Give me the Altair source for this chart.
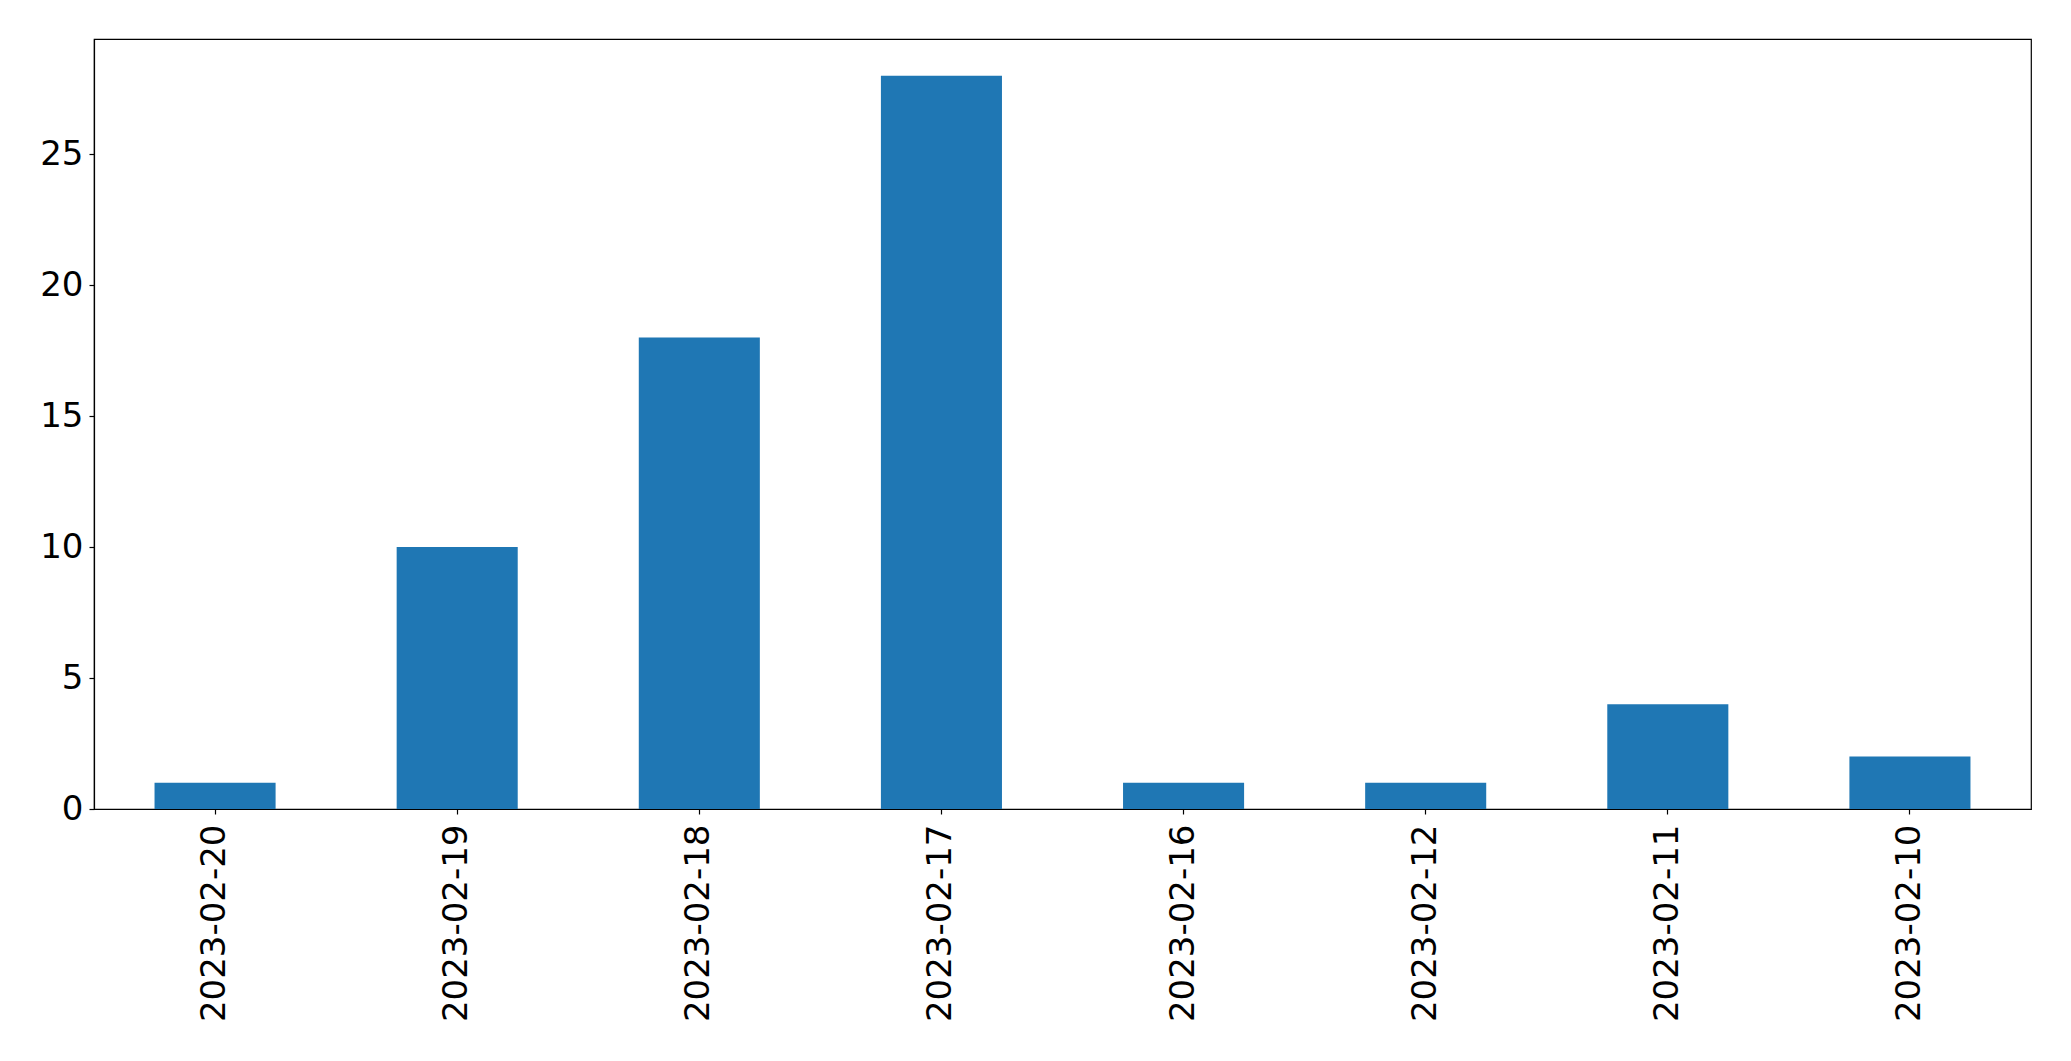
import altair as alt
import pandas as pd

dates = ["2023-02-20", "2023-02-19", "2023-02-18", "2023-02-17",
         "2023-02-16", "2023-02-12", "2023-02-11", "2023-02-10"]
counts = [1, 10, 18, 28, 1, 1, 4, 2]
y_ticks = [0, 5, 10, 15, 20, 25]

df = pd.DataFrame({"date": dates, "count": counts})

chart = alt.Chart(df).mark_bar(color="#1f77b4").encode(
    x=alt.X("date:N", sort=None,
            scale=alt.Scale(paddingInner=0.5, paddingOuter=0.25),
            axis=alt.Axis(title=None, labelAngle=-90, labelAlign="right",
                          labelBaseline="middle", labelPadding=10, labelLimit=0,
                          tickSize=5, tickColor="black", domainColor="black",
                          labelFontSize=34, labelColor="black",
                          labelFont="DejaVu Sans")),
    y=alt.Y("count:Q",
            scale=alt.Scale(domain=[0, 29.4], nice=False, zero=True),
            axis=alt.Axis(title=None, values=y_ticks, grid=False,
                          tickSize=5, tickColor="black", domainColor="black",
                          labelFontSize=34, labelColor="black", labelPadding=6,
                          labelFont="DejaVu Sans")),
).properties(
    width=1937, height=770,
    autosize=alt.AutoSizeParams(type="none"),
    padding={"left": 86, "top": 31, "right": 32, "bottom": 244},
).configure_view(
    stroke="black", strokeWidth=1.2
).configure_axis(
    domainWidth=1.2, tickWidth=1.2
)

chart.save("out.html", embed_options={"renderer": "svg", "actions": False})
